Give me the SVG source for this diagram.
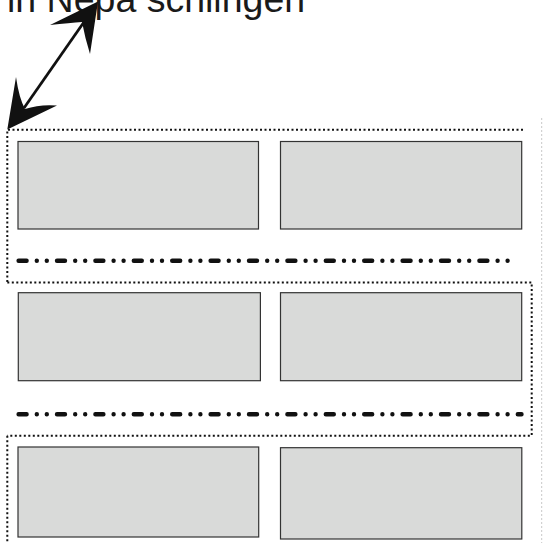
<svg xmlns="http://www.w3.org/2000/svg" width="543" height="543" viewBox="0 0 543 543">
<style>
.box{fill:#d9dad9;stroke:#333;stroke-width:1.2}
.dot{fill:none;stroke:#111;stroke-width:2;stroke-dasharray:2 2.5}
.sep{fill:none;stroke:#111;stroke-width:4.4;stroke-linecap:round;stroke-dasharray:8 10.2 0 10 0 10.2}
.edge{fill:none;stroke:#c8c8c8;stroke-width:1;stroke-dasharray:2 2}
.lbl{font-family:"Liberation Sans",Arial,sans-serif;font-size:37.5px;fill:#1a1a1a}
.head{fill:#111}
</style>
<rect width="543" height="543" fill="#fff"/>
<g id="label"><text class="lbl" x="7" y="12">in Nepa schlingen</text></g>
<line class="edge" x1="541.7" y1="118" x2="541.7" y2="543"/>
<g id="regions">
<path class="dot" d="M523,129.7 H7.3 V282.5"/>
<path class="dot" d="M7.3,282.5 H531.7 V435.7 H7.3"/>
<path class="dot" d="M7.3,435.7 V543"/>
</g>
<g id="row1">
<rect id="n1" class="box" x="18" y="141.5" width="240.5" height="87.5"/>
<rect id="n2" class="box" x="280.5" y="141.5" width="241.2" height="87.5"/>
<path class="sep" d="M18.6,260.7 H508"/>
</g>
<g id="row2">
<rect id="n3" class="box" x="18.3" y="292.7" width="242.1" height="88"/>
<rect id="n4" class="box" x="280.5" y="292.7" width="241.2" height="88"/>
<path class="sep" d="M18.6,414.3 H521.5"/>
</g>
<g id="row3">
<rect id="n5" class="box" x="18" y="447" width="240.7" height="90"/>
<rect id="n6" class="box" x="280.5" y="447.7" width="241.3" height="91.3"/>
</g>
<g id="connectors">
<line x1="24" y1="108" x2="84" y2="22" stroke="#111" stroke-width="2.8"/>
<path class="head" d="M7.3,129.5 L16,77 Q19,98 25,109 Q40,104 57,105.5 Z"/>
<path class="head" d="M98,1.5 L50,25 Q70,23 82,22 Q85,38 90,54 Z"/>
</g>
</svg>
